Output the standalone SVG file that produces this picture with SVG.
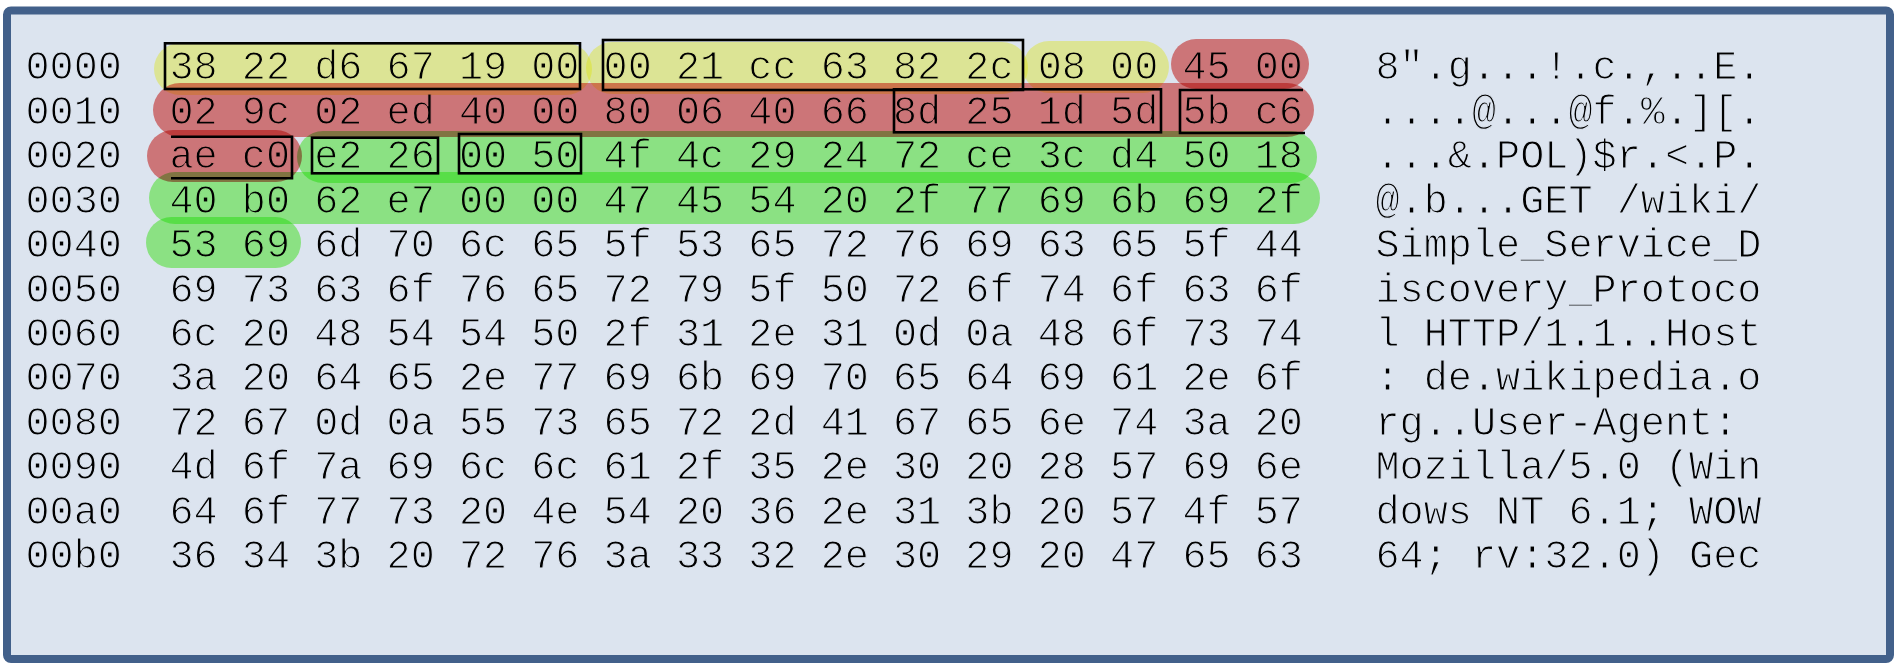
<svg xmlns="http://www.w3.org/2000/svg" width="1903" height="667" viewBox="0 0 1903 667">
<style>
.t{font-family:"Liberation Mono","Courier New",monospace;font-size:40.2px;fill:#000;stroke:#fff;stroke-width:1.1px;mix-blend-mode:multiply;}
.y{fill:#FFFF9F;mix-blend-mode:multiply;}
.r{fill:#ED8380;mix-blend-mode:multiply;}
.g{fill:#A1FC8C;mix-blend-mode:multiply;}
.b{fill:none;stroke:#000;stroke-width:2.6;}
</style>
<rect width="1903" height="667" fill="#ffffff"/>
<g id="frame">
<rect x="7" y="10.5" width="1883" height="648.5" rx="4" fill="#DCE4EF" stroke="#42608A" stroke-width="8"/>
</g>
<g id="highlights">
<rect class="y" x="154" y="43" width="438" height="52" rx="26"/>
<rect class="y" x="586" y="42" width="442" height="52" rx="26"/>
<rect class="y" x="1023" y="41" width="146" height="52" rx="26"/>
<rect class="r" x="1171" y="39" width="138" height="50" rx="25"/>
<rect class="r" x="153" y="83" width="1161" height="54" rx="27"/>
<rect class="r" x="147" y="130" width="155" height="52" rx="26"/>
<rect class="g" x="297" y="131" width="1020" height="52" rx="26"/>
<rect class="g" x="149" y="172" width="1171" height="52" rx="26"/>
<rect class="g" x="146" y="217" width="155" height="51" rx="25.5"/>
</g>
<g id="boxes">
<rect class="b" x="165" y="43.3" width="415" height="45.7"/>
<rect class="b" x="603" y="40" width="420" height="50"/>
<rect class="b" x="894" y="89.3" width="267" height="43"/>
<path class="b" d="M1303,90 H1180 V133 H1305"/>
<path class="b" d="M171,136.7 H292 V178.3 H171"/>
<rect class="b" x="312" y="137.7" width="126" height="35.6"/>
<rect class="b" x="459" y="134" width="122" height="39.3"/>
</g>
<g id="row-0000"><text class="t" x="25.5" y="79.3">0000</text><text class="t" x="169.5" y="79.3">38 22 d6 67 19 00 00 21 cc 63 82 2c 08 00 45 00</text><text class="t" x="1375.5" y="79.3">8".g...!.c.,..E.</text></g>
<g id="row-0010"><text class="t" x="25.5" y="123.75">0010</text><text class="t" x="169.5" y="123.75">02 9c 02 ed 40 00 80 06 40 66 8d 25 1d 5d 5b c6</text><text class="t" x="1375.5" y="123.75">....@...@f.%.][.</text></g>
<g id="row-0020"><text class="t" x="25.5" y="168.2">0020</text><text class="t" x="169.5" y="168.2">ae c0 e2 26 00 50 4f 4c 29 24 72 ce 3c d4 50 18</text><text class="t" x="1375.5" y="168.2">...&amp;.POL)$r.&lt;.P.</text></g>
<g id="row-0030"><text class="t" x="25.5" y="212.65">0030</text><text class="t" x="169.5" y="212.65">40 b0 62 e7 00 00 47 45 54 20 2f 77 69 6b 69 2f</text><text class="t" x="1375.5" y="212.65">@.b...GET /wiki/</text></g>
<g id="row-0040"><text class="t" x="25.5" y="257.1">0040</text><text class="t" x="169.5" y="257.1">53 69 6d 70 6c 65 5f 53 65 72 76 69 63 65 5f 44</text><text class="t" x="1375.5" y="257.1">Simple_Service_D</text></g>
<g id="row-0050"><text class="t" x="25.5" y="301.55">0050</text><text class="t" x="169.5" y="301.55">69 73 63 6f 76 65 72 79 5f 50 72 6f 74 6f 63 6f</text><text class="t" x="1375.5" y="301.55">iscovery_Protoco</text></g>
<g id="row-0060"><text class="t" x="25.5" y="346">0060</text><text class="t" x="169.5" y="346">6c 20 48 54 54 50 2f 31 2e 31 0d 0a 48 6f 73 74</text><text class="t" x="1375.5" y="346" xml:space="preserve">l HTTP/1.1..Host</text></g>
<g id="row-0070"><text class="t" x="25.5" y="390.45">0070</text><text class="t" x="169.5" y="390.45">3a 20 64 65 2e 77 69 6b 69 70 65 64 69 61 2e 6f</text><text class="t" x="1375.5" y="390.45" xml:space="preserve">: de.wikipedia.o</text></g>
<g id="row-0080"><text class="t" x="25.5" y="434.9">0080</text><text class="t" x="169.5" y="434.9">72 67 0d 0a 55 73 65 72 2d 41 67 65 6e 74 3a 20</text><text class="t" x="1375.5" y="434.9">rg..User-Agent:</text></g>
<g id="row-0090"><text class="t" x="25.5" y="479.35">0090</text><text class="t" x="169.5" y="479.35">4d 6f 7a 69 6c 6c 61 2f 35 2e 30 20 28 57 69 6e</text><text class="t" x="1375.5" y="479.35" xml:space="preserve">Mozilla/5.0 (Win</text></g>
<g id="row-00a0"><text class="t" x="25.5" y="523.8">00a0</text><text class="t" x="169.5" y="523.8">64 6f 77 73 20 4e 54 20 36 2e 31 3b 20 57 4f 57</text><text class="t" x="1375.5" y="523.8" xml:space="preserve">dows NT 6.1; WOW</text></g>
<g id="row-00b0"><text class="t" x="25.5" y="568.25">00b0</text><text class="t" x="169.5" y="568.25">36 34 3b 20 72 76 3a 33 32 2e 30 29 20 47 65 63</text><text class="t" x="1375.5" y="568.25" xml:space="preserve">64; rv:32.0) Gec</text></g>
</svg>
